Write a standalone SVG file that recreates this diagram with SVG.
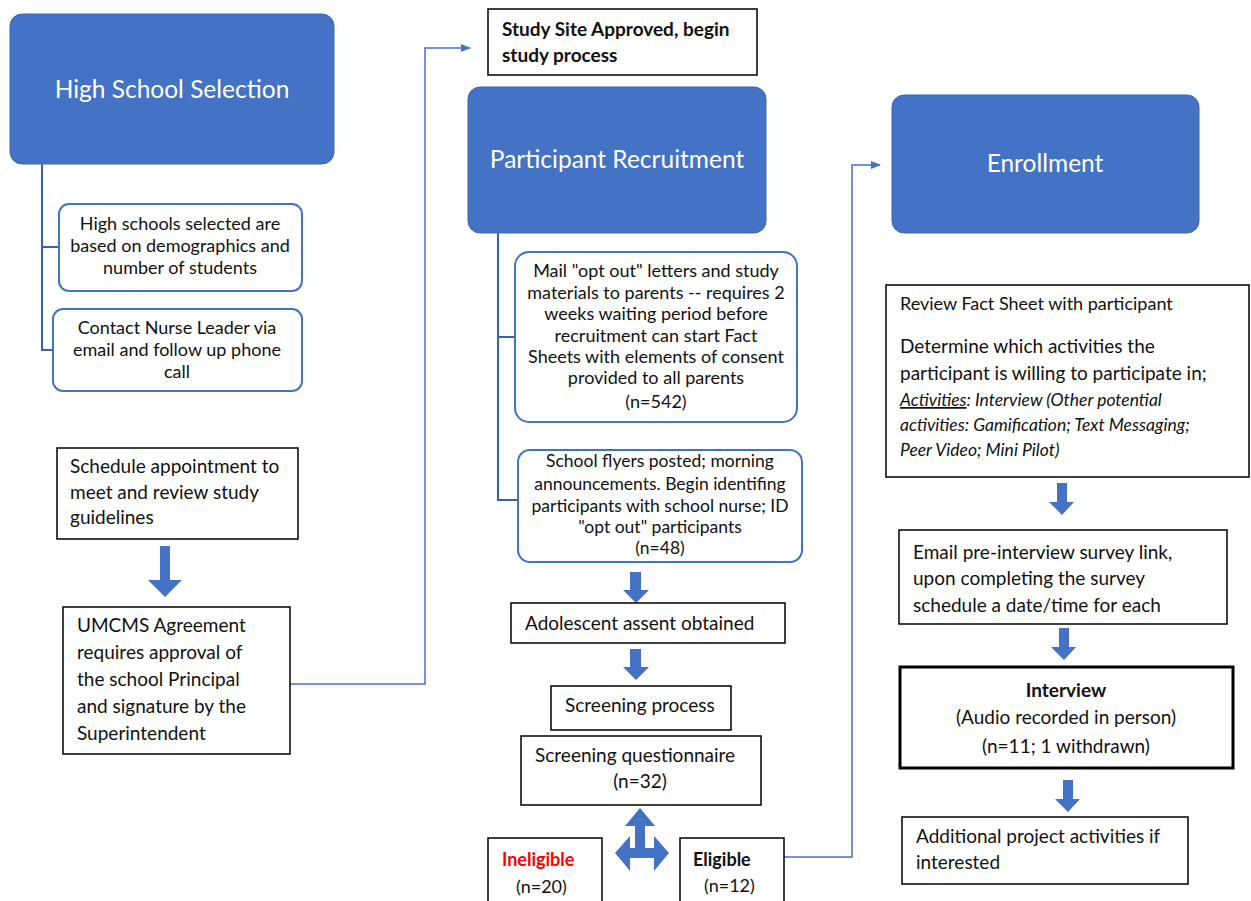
<svg xmlns="http://www.w3.org/2000/svg" width="1251" height="901" viewBox="0 0 1251 901">
<defs>
<style>
.hdr{fill:#4472C4;stroke:#3C66B0;stroke-width:1}
.hdrt{font-family:Lato,"Open Sans",sans-serif;font-size:24.5px;fill:#fff;text-anchor:middle}
.rbox{fill:#fff;stroke:#4472C4;stroke-width:2}
.box{fill:#fff;stroke:#000;stroke-width:1.5}
.t{font-family:Lato,"Open Sans",sans-serif;font-size:19px;fill:#111}
.r{font-size:18px}
.c{text-anchor:middle}
.b{font-weight:bold}
.conn{fill:none;stroke:#4472C4;stroke-width:1.5}
.tree{fill:none;stroke:#3A62A8;stroke-width:2}
.barrow{fill:#4472C4}
</style>
<marker id="ah" markerWidth="10" markerHeight="8" refX="9" refY="4" orient="auto" markerUnits="userSpaceOnUse">
<path d="M0,0 L10,4 L0,8 Z" fill="#4472C4"/>
</marker>
</defs>
<rect width="1251" height="901" fill="#fff"/>

<g id="connectors">
<path class="tree" d="M42,164 V350 H53 M42,247 H59"/>
<path class="tree" d="M498,233 V500 H518 M498,337 H514"/>
<path class="conn" d="M290,684 H425 V48 H470" marker-end="url(#ah)"/>
<path class="conn" d="M784,857 H852 V165 H880" marker-end="url(#ah)"/>
<polygon class="barrow" points="160,546 170,546 170,580 182,580 165,597 148,580 160,580"/>
<polygon class="barrow" points="630,572 641,572 641,590 649,590 636,603 623,590 630,590"/>
<polygon class="barrow" points="630,649 641,649 641,667 649,667 636,680 623,667 630,667"/>
<polygon class="barrow" points="640,808 655,826 645,826 645,848 654,848 654,836 669,853 654,871 654,858 630,858 630,871 615,853 630,836 630,848 635,848 635,826 625,826"/>
<polygon class="barrow" points="1057,483 1067,483 1067,502 1074,502 1062,515 1049,502 1057,502"/>
<polygon class="barrow" points="1059,628 1069,628 1069,647 1076,647 1064,660 1051,647 1059,647"/>
<polygon class="barrow" points="1063,780 1073,780 1073,799 1080,799 1068,812 1055,799 1063,799"/>
</g>

<g id="high-school-selection">
<rect class="hdr" x="10" y="14" width="324" height="150" rx="12"/>
<text class="hdrt" x="172" y="98">High School Selection</text>
</g>

<g id="high-schools-selected">
<rect class="rbox" x="59" y="204" width="243" height="87" rx="10"/>
<text class="t r c" x="180" y="230">High schools selected are</text>
<text class="t r c" x="180" y="252">based on demographics and</text>
<text class="t r c" x="180" y="274">number of students</text>
</g>

<g id="contact-nurse">
<rect class="rbox" x="53" y="309" width="249" height="82" rx="10"/>
<text class="t r c" x="177" y="334">Contact Nurse Leader via</text>
<text class="t r c" x="177" y="356">email and follow up phone</text>
<text class="t r c" x="177" y="378">call</text>
</g>

<g id="schedule-appointment">
<rect class="box" x="57" y="448" width="241" height="91"/>
<text class="t" x="70" y="473">Schedule appointment to</text>
<text class="t" x="70" y="499">meet and review study</text>
<text class="t" x="70" y="524">guidelines</text>
</g>

<g id="umcms-agreement">
<rect class="box" x="63" y="607" width="227" height="147"/>
<text class="t" x="77" y="632">UMCMS Agreement</text>
<text class="t" x="77" y="659">requires approval of</text>
<text class="t" x="77" y="686">the school Principal</text>
<text class="t" x="77" y="713">and signature by the</text>
<text class="t" x="77" y="740">Superintendent</text>
</g>

<g id="study-site-approved">
<rect class="box" x="488" y="9" width="269" height="66"/>
<text class="t b" x="502" y="36">Study Site Approved, begin</text>
<text class="t b" x="502" y="62">study process</text>
</g>

<g id="participant-recruitment">
<rect class="hdr" x="468" y="87" width="298" height="146" rx="12"/>
<text class="hdrt" x="617" y="168">Participant Recruitment</text>
</g>

<g id="mail-opt-out">
<rect class="rbox" x="515" y="252" width="282" height="170" rx="14"/>
<text class="t r c" x="656" y="277">Mail "opt out" letters and study</text>
<text class="t r c" x="656" y="299">materials to parents -- requires 2</text>
<text class="t r c" x="656" y="320">weeks waiting period before</text>
<text class="t r c" x="656" y="342">recruitment can start Fact</text>
<text class="t r c" x="656" y="363">Sheets with elements of consent</text>
<text class="t r c" x="656" y="384">provided to all parents</text>
<text class="t r c" x="656" y="408">(n=542)</text>
</g>

<g id="school-flyers">
<rect class="rbox" x="518" y="450" width="284" height="112" rx="12"/>
<text class="t c" x="660" y="467" style="font-size:17.5px">School flyers posted; morning</text>
<text class="t c" x="660" y="490" style="font-size:17.5px">announcements. Begin identifing</text>
<text class="t c" x="660" y="512" style="font-size:17.5px">participants with school nurse; ID</text>
<text class="t c" x="660" y="533" style="font-size:17.5px">"opt out" participants</text>
<text class="t c" x="660" y="554" style="font-size:17.5px">(n=48)</text>
</g>

<g id="adolescent-assent">
<rect class="box" x="511" y="603" width="274" height="40"/>
<text class="t" x="525" y="630">Adolescent assent obtained</text>
</g>

<g id="screening-process">
<rect class="box" x="551" y="686" width="180" height="44"/>
<text class="t" x="565" y="712">Screening process</text>
</g>

<g id="screening-questionnaire">
<rect class="box" x="521" y="736" width="240" height="69"/>
<text class="t" x="535" y="762">Screening questionnaire</text>
<text class="t c" x="640" y="788">(n=32)</text>
</g>

<g id="ineligible">
<rect class="box" x="488" y="838" width="114" height="70"/>
<text class="t b r" x="502" y="866" style="fill:#FF0000">Ineligible</text>
<text class="t r" x="516" y="893">(n=20)</text>
</g>

<g id="eligible">
<rect class="box" x="680" y="838" width="104" height="70"/>
<text class="t b r" x="693" y="866">Eligible</text>
<text class="t r" x="704" y="892">(n=12)</text>
</g>

<g id="enrollment">
<rect class="hdr" x="892" y="95" width="307" height="138" rx="12"/>
<text class="hdrt" x="1045" y="172">Enrollment</text>
</g>

<g id="review-fact-sheet">
<rect class="box" x="886" y="285" width="363" height="192"/>
<text class="t" x="900" y="310" style="font-size:18px">Review Fact Sheet with participant</text>
<text class="t" x="900" y="353">Determine which activities the</text>
<text class="t" x="900" y="380">participant is willing to participate in;</text>
<text class="t" x="900" y="406" style="font-size:17.5px;font-style:italic"><tspan text-decoration="underline">Activities</tspan>: Interview (Other potential</text>
<text class="t" x="900" y="431" style="font-size:17.5px;font-style:italic">activities: Gamification; Text Messaging;</text>
<text class="t" x="900" y="456" style="font-size:17.5px;font-style:italic">Peer Video; Mini Pilot)</text>
</g>

<g id="email-survey">
<rect class="box" x="899" y="530" width="328" height="94"/>
<text class="t" x="913" y="559">Email pre-interview survey link,</text>
<text class="t" x="913" y="585">upon completing the survey</text>
<text class="t" x="913" y="612">schedule a date/time for each</text>
</g>

<g id="interview">
<rect x="900" y="667" width="333" height="101" fill="#fff" stroke="#000" stroke-width="3"/>
<text class="t b c" x="1066" y="697">Interview</text>
<text class="t c" x="1066" y="724">(Audio recorded in person)</text>
<text class="t c" x="1066" y="753">(n=11; 1 withdrawn)</text>
</g>

<g id="additional-activities">
<rect class="box" x="902" y="817" width="286" height="67"/>
<text class="t" x="916" y="843">Additional project activities if</text>
<text class="t" x="916" y="869">interested</text>
</g>
</svg>
